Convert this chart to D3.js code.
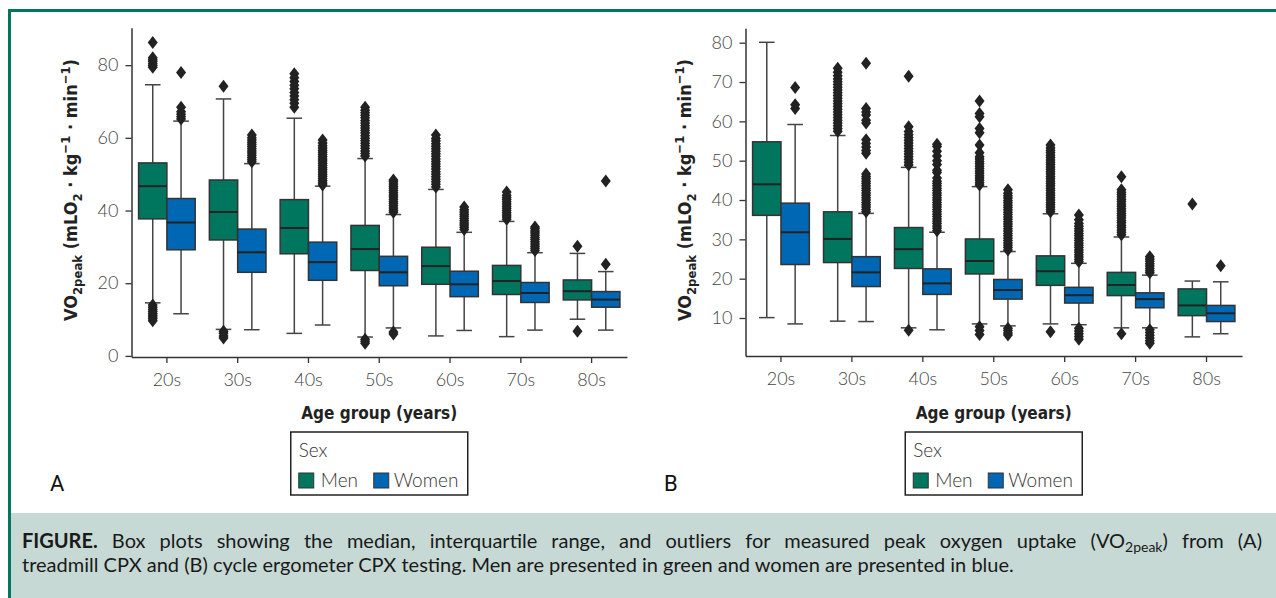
<!DOCTYPE html>
<html>
<head>
<meta charset="utf-8">
<script src="https://cdn.jsdelivr.net/npm/d3@7"></script>
<style>
  body { margin: 0; background: #fff; }
  svg { display: block; }
</style>
</head>
<body>
<script>
// Age groups on the x axis
const ageGroups = ['20s', '30s', '40s', '50s', '60s', '70s', '80s'];
const sexes = ['Men', 'Women'];

// Panel A: treadmill CPX (box stats)
const menA = [
  { lo: 14.6, q1: 37.7, med: 46.7, q3: 53.1, hi: 74.6 },
  { lo: 7.3, q1: 31.9, med: 39.6, q3: 48.4, hi: 70.7 },
  { lo: 6.2, q1: 28.1, med: 35.2, q3: 43.0, hi: 65.4 },
  { lo: 5.2, q1: 23.5, med: 29.4, q3: 35.9, hi: 54.3 },
  { lo: 5.5, q1: 19.7, med: 24.7, q3: 29.9, hi: 45.8 },
  { lo: 5.3, q1: 16.9, med: 20.6, q3: 24.9, hi: 37.0 },
  { lo: 10.1, q1: 15.4, med: 17.8, q3: 20.9, hi: 28.2 },
];
const womenA = [
  { lo: 11.6, q1: 29.2, med: 36.7, q3: 43.3, hi: 64.6 },
  { lo: 7.2, q1: 23.0, med: 28.5, q3: 34.9, hi: 52.9 },
  { lo: 8.5, q1: 20.8, med: 25.8, q3: 31.3, hi: 46.7 },
  { lo: 7.7, q1: 19.3, med: 23.0, q3: 27.4, hi: 38.9 },
  { lo: 7.0, q1: 16.3, med: 19.7, q3: 23.3, hi: 34.0 },
  { lo: 7.1, q1: 14.7, med: 17.3, q3: 20.2, hi: 28.4 },
  { lo: 7.1, q1: 13.4, med: 15.5, q3: 17.7, hi: 23.2 },
];
const menOutA = [
  [79.4, 79.9, 80.4, 81.0, 81.5, 82.0, 86.2, 14.0, 13.4, 12.8, 12.2, 11.7, 11.2, 10.7, 10.2, 9.7],
  [74.2, 6.8, 6.2, 5.5, 4.9],
  [68.4, 69.5, 70.5, 71.5, 72.5, 73.5, 74.5, 75.5, 76.5, 77.6],
  [55.0, 55.7, 56.4, 57.1, 57.8, 58.5, 59.2, 59.9, 60.6, 61.3, 62.0, 62.7, 63.4, 64.1, 64.8, 65.5, 66.2, 66.9, 67.6, 68.4, 4.6, 4.0, 3.5],
  [46.5, 47.2, 47.9, 48.6, 49.3, 50.0, 50.7, 51.4, 52.1, 52.8, 53.5, 54.2, 54.9, 55.6, 56.3, 57.0, 57.7, 58.4, 59.1, 59.8, 60.8],
  [37.6, 38.2, 38.8, 39.4, 40.0, 40.6, 41.2, 41.8, 42.4, 43.0, 43.6, 44.2, 45.1],
  [30.2, 6.8],
];
const womenOutA = [
  [65.2, 65.8, 66.5, 67.2, 68.4, 78.0],
  [53.4, 54.0, 54.6, 55.2, 55.8, 56.4, 57.0, 57.6, 58.2, 58.8, 59.4, 60.0, 60.8],
  [47.0, 47.6, 48.2, 48.8, 49.4, 50.0, 50.6, 51.2, 51.8, 52.4, 53.0, 53.6, 54.2, 54.8, 55.4, 56.0, 56.6, 57.2, 57.8, 58.6, 59.4],
  [39.5, 40.1, 40.7, 41.3, 41.9, 42.5, 43.1, 43.7, 44.3, 44.9, 45.5, 46.1, 46.7, 47.3, 47.9, 48.4, 6.6, 6.0],
  [34.8, 35.4, 36.0, 36.6, 37.2, 37.8, 38.4, 39.0, 39.6, 40.2, 41.0],
  [29.0, 29.6, 30.2, 30.8, 31.4, 32.0, 32.6, 33.2, 33.8, 34.4, 35.0, 35.5],
  [25.2, 48.1],
];

// Panel B: cycle ergometer CPX
const menB = [
  { lo: 10.1, q1: 36.1, med: 44.0, q3: 54.8, hi: 80.1 },
  { lo: 9.2, q1: 24.1, med: 30.1, q3: 37.0, hi: 56.4 },
  { lo: 7.5, q1: 22.6, med: 27.5, q3: 33.0, hi: 48.3 },
  { lo: 8.5, q1: 21.2, med: 24.5, q3: 30.1, hi: 43.4 },
  { lo: 8.5, q1: 18.3, med: 21.9, q3: 25.8, hi: 36.5 },
  { lo: 7.5, q1: 15.7, med: 18.4, q3: 21.6, hi: 30.6 },
  { lo: 5.2, q1: 10.6, med: 13.2, q3: 17.4, hi: 19.4 },
];
const womenB = [
  { lo: 8.5, q1: 23.6, med: 31.8, q3: 39.2, hi: 59.2 },
  { lo: 9.1, q1: 18.0, med: 21.6, q3: 25.6, hi: 36.6 },
  { lo: 7.0, q1: 16.0, med: 18.8, q3: 22.5, hi: 31.8 },
  { lo: 8.0, q1: 14.8, med: 17.1, q3: 19.8, hi: 26.9 },
  { lo: 8.3, q1: 13.8, med: 15.8, q3: 17.8, hi: 23.9 },
  { lo: 7.5, q1: 12.6, med: 14.8, q3: 16.4, hi: 20.9 },
  { lo: 6.0, q1: 9.1, med: 11.2, q3: 13.2, hi: 19.2 },
];
const menOutB = [
  [],
  [57.5, 58.2, 58.9, 59.6, 60.3, 61.0, 61.7, 62.4, 63.1, 63.8, 64.5, 65.2, 65.9, 66.6, 67.3, 68.0, 68.7, 69.4, 70.1, 70.8, 71.6, 72.5, 73.5],
  [48.9, 49.6, 50.3, 51.0, 51.7, 52.4, 53.1, 53.8, 54.5, 55.2, 55.9, 56.6, 57.4, 58.6, 71.5, 6.9],
  [43.8, 44.4, 45.0, 45.6, 46.2, 46.8, 47.4, 48.0, 48.6, 49.2, 49.8, 50.4, 51.0, 52.0, 54.0, 57.1, 58.2, 61.2, 62.0, 65.2, 7.8, 6.8, 5.8],
  [37.0, 37.6, 38.2, 38.8, 39.4, 40.0, 40.6, 41.2, 41.8, 42.4, 43.0, 43.6, 44.2, 44.8, 45.4, 46.0, 46.6, 47.2, 47.8, 48.4, 49.0, 49.6, 50.2, 50.8, 51.4, 52.0, 52.6, 53.2, 54.0, 6.5],
  [31.2, 31.8, 32.4, 33.0, 33.6, 34.2, 34.8, 35.4, 36.0, 36.6, 37.2, 37.8, 38.4, 39.0, 39.6, 40.2, 40.8, 41.4, 42.0, 42.6, 45.9, 6.0],
  [39.0],
];
const womenOutB = [
  [63.3, 64.2, 68.6],
  [37.0, 37.6, 38.2, 38.8, 39.4, 40.0, 40.6, 41.2, 41.8, 42.4, 43.0, 43.6, 44.2, 44.8, 45.4, 46.0, 46.6, 51.9, 52.6, 53.5, 54.4, 55.3, 59.6, 60.3, 61.6, 62.4, 63.3, 74.8],
  [32.2, 32.8, 33.4, 34.0, 34.6, 35.2, 35.8, 36.4, 37.0, 37.6, 38.2, 38.8, 39.4, 40.0, 40.6, 41.2, 41.8, 42.4, 43.0, 43.6, 44.2, 44.8, 45.6, 47.0, 47.6, 49.0, 50.0, 51.2, 52.4, 53.6, 54.2],
  [27.3, 27.9, 28.5, 29.1, 29.7, 30.3, 30.9, 31.5, 32.1, 32.7, 33.3, 33.9, 34.5, 35.1, 35.7, 36.3, 36.9, 37.5, 38.1, 38.7, 39.3, 39.9, 40.5, 41.1, 41.7, 42.6, 7.4, 6.8, 6.2, 5.7],
  [24.3, 24.9, 25.5, 26.1, 26.7, 27.3, 27.9, 28.5, 29.1, 29.7, 30.3, 30.9, 31.5, 32.1, 32.7, 33.3, 34.0, 35.0, 36.2, 7.4, 6.7, 6.0, 5.3, 4.6],
  [21.5, 22.0, 22.6, 23.2, 23.8, 24.4, 25.0, 25.6, 7.0, 6.3, 5.6, 4.9, 4.2, 3.6],
  [23.3],
];

const ticksA = [0, 20, 40, 60, 80];
const ticksB = [10, 20, 30, 40, 50, 60, 70, 80];

const sexColors = { Men: '#00765f', Women: '#0067b5' };
const tickFont = 'Lato, "Open Sans", sans-serif';
const titleFont = '"DejaVu Sans Condensed", "DejaVu Sans", sans-serif';

const svg = d3
  .select('body')
  .append('svg')
  .attr('width', 1276)
  .attr('height', 598);

// Figure frame and caption strip
svg.append('rect').attr('x', 11).attr('y', 513).attr('width', 1265).attr('height', 85).attr('fill', '#c6d9d4');
svg.append('rect').attr('x', 8).attr('y', 9).attr('width', 1268).attr('height', 3).attr('fill', '#00765f');
svg.append('rect').attr('x', 8).attr('y', 9).attr('width', 3).attr('height', 589).attr('fill', '#00765f');

class BoxPanel {
  constructor(_config, _data) {
    this.config = _config;
    this.data = _data;
    this.initVis();
  }

  initVis() {
    let vis = this;
    const c = vis.config;

    vis.g = svg.append('g');

    vis.x = d3.scaleBand().domain(ageGroups).range(c.xRange).padding(0);
    vis.y = d3.scaleLinear().domain(c.yDomain).range(c.yRange);

    // Axes
    const yAxis = d3.axisLeft(vis.y).tickValues(c.ticks).tickSize(6).tickPadding(7).tickSizeOuter(0);
    const xAxis = d3.axisBottom(vis.x).tickSize(6).tickPadding(10).tickSizeOuter(0);

    const yg = vis.g.append('g').attr('transform', `translate(${c.xRange[0]},0)`).call(yAxis);
    const xg = vis.g.append('g').attr('transform', `translate(0,${c.yRange[0]})`).call(xAxis);

    [yg, xg].forEach((a) => {
      a.select('.domain').attr('stroke', '#333').attr('stroke-width', 1.5);
      a.selectAll('.tick line').attr('stroke', '#333').attr('stroke-width', 1.3);
      a.selectAll('.tick text')
        .attr('fill', '#444')
        .style('font-family', tickFont)
        .style('font-weight', 300)
        .style('font-size', '18px');
    });

    const midX = (c.xRange[0] + c.xRange[1]) / 2;

    // Axis titles
    vis.g.append('text')
      .attr('x', midX)
      .attr('y', 419)
      .attr('text-anchor', 'middle')
      .style('font-family', titleFont)
      .style('font-weight', 'bold')
      .style('font-size', '17px')
      .attr('fill', '#222')
      .text('Age group (years)');

    const yt = vis.g.append('text')
      .attr('transform', `translate(${c.yTitleX},${c.yTitleY}) rotate(-90)`)
      .attr('text-anchor', 'middle')
      .style('font-family', titleFont)
      .style('font-weight', 'bold')
      .style('font-size', '18px')
      .attr('fill', '#222');
    yt.append('tspan').text('VO');
    yt.append('tspan').attr('dy', 5).style('font-size', '13px').text('2peak');
    yt.append('tspan').attr('dy', -5).text(' (mLO');
    yt.append('tspan').attr('dy', 5).style('font-size', '13px').text('2');
    yt.append('tspan').attr('dy', -5).text(' · kg');
    yt.append('tspan').attr('dy', -7).style('font-size', '13px').text('−1');
    yt.append('tspan').attr('dy', 7).text(' · min');
    yt.append('tspan').attr('dy', -7).style('font-size', '13px').text('−1');
    yt.append('tspan').attr('dy', 7).text(')');

    // Panel letter
    vis.g.append('text')
      .attr('x', c.letterX)
      .attr('y', 491)
      .style('font-family', 'Roboto, sans-serif')
      .style('font-weight', 400)
      .style('font-size', '22px')
      .attr('fill', '#111')
      .text(c.letter);

    // Legend box, centred under the axis
    const lw = 177, lh = 63;
    const lx = midX - lw / 2, ly = 432;
    const lg = vis.g.append('g').attr('transform', `translate(${lx},${ly})`);
    lg.append('rect').attr('width', lw).attr('height', lh).attr('fill', '#fff').attr('stroke', '#222').attr('stroke-width', 1.5);
    lg.append('text').attr('x', 8).attr('y', 25).text('Sex');
    const items = [{ k: 'Men', sx: 8, tx: 30 }, { k: 'Women', sx: 83, tx: 103 }];
    items.forEach((d) => {
      lg.append('rect')
        .attr('x', d.sx).attr('y', 41).attr('width', 15).attr('height', 15)
        .attr('fill', sexColors[d.k]).attr('stroke', '#333').attr('stroke-width', 1);
      lg.append('text').attr('x', d.tx).attr('y', 55).text(d.k);
    });
    lg.selectAll('text')
      .attr('fill', '#333')
      .style('font-family', tickFont)
      .style('font-weight', 300)
      .style('font-size', '19px');

    vis.renderVis();
  }

  renderVis() {
    let vis = this;
    const bw = vis.x.bandwidth();
    const boxW = bw * 0.4;
    const capW = boxW * 0.55;

    const series = [
      { key: 'Men', stats: vis.data.men, out: vis.data.menOut, offset: -boxW },
      { key: 'Women', stats: vis.data.women, out: vis.data.womenOut, offset: 0 },
    ];

    series.forEach((s) => {
      const boxes = vis.g.append('g')
        .selectAll('g')
        .data(s.stats.map((d, i) => ({ ...d, cat: ageGroups[i], out: s.out[i] })))
        .join('g')
        .attr('transform', (d) => `translate(${vis.x(d.cat) + bw / 2 + s.offset},0)`);

      const cx = boxW / 2;

      // whiskers
      boxes.append('line')
        .attr('x1', cx).attr('x2', cx)
        .attr('y1', (d) => vis.y(d.hi)).attr('y2', (d) => vis.y(d.q3));
      boxes.append('line')
        .attr('x1', cx).attr('x2', cx)
        .attr('y1', (d) => vis.y(d.q1)).attr('y2', (d) => vis.y(d.lo));
      // caps
      boxes.append('line')
        .attr('x1', cx - capW / 2).attr('x2', cx + capW / 2)
        .attr('y1', (d) => vis.y(d.hi)).attr('y2', (d) => vis.y(d.hi));
      boxes.append('line')
        .attr('x1', cx - capW / 2).attr('x2', cx + capW / 2)
        .attr('y1', (d) => vis.y(d.lo)).attr('y2', (d) => vis.y(d.lo));
      boxes.selectAll('line').attr('stroke', '#444').attr('stroke-width', 1.5);

      // IQR box
      boxes.append('rect')
        .attr('x', 0)
        .attr('width', boxW)
        .attr('y', (d) => vis.y(d.q3))
        .attr('height', (d) => vis.y(d.q1) - vis.y(d.q3))
        .attr('fill', sexColors[s.key])
        .attr('stroke', '#333')
        .attr('stroke-width', 1.5);

      // median
      boxes.append('line')
        .attr('x1', 0).attr('x2', boxW)
        .attr('y1', (d) => vis.y(d.med)).attr('y2', (d) => vis.y(d.med))
        .attr('stroke', '#222')
        .attr('stroke-width', 2);

      // outliers (thin diamonds)
      boxes.selectAll('path.flier')
        .data((d) => d.out)
        .join('path')
        .attr('class', 'flier')
        .attr('d', 'M0,-6.5L5,0L0,6.5L-5,0Z')
        .attr('transform', (v) => `translate(${cx},${vis.y(v)})`)
        .attr('fill', '#222');
    });
  }
}

new BoxPanel(
  {
    xRange: [131.5, 627],
    yDomain: [-0.3, 90.3],
    yRange: [357, 27.7],
    ticks: ticksA,
    yTitleX: 77,
    yTitleY: 190,
    letter: 'A',
    letterX: 50,
  },
  { men: menA, women: womenA, menOut: menOutA, womenOut: womenOutA }
);

new BoxPanel(
  {
    xRange: [745.5, 1242],
    yDomain: [0.34, 83.66],
    yRange: [356, 28.3],
    ticks: ticksB,
    yTitleX: 691,
    yTitleY: 190,
    letter: 'B',
    letterX: 664,
  },
  { men: menB, women: womenB, menOut: menOutB, womenOut: womenOutB }
);

// Caption (first line justified to the strip width)
const capStyle = (t) =>
  t.style('font-family', tickFont).style('font-size', '20px').attr('fill', '#1a1a1a');

const cap1 = svg.append('text').attr('x', 22).attr('y', 548).call(capStyle);
cap1.append('tspan').style('font-weight', 'bold').text('FIGURE.');
cap1.append('tspan').text(' Box plots showing the median, interquartile range, and outliers for measured peak oxygen uptake (VO');
cap1.append('tspan').attr('dy', 4).style('font-size', '14px').text('2peak');
cap1.append('tspan').attr('dy', -4).text(') from (A)');

const natural = cap1.node().getComputedTextLength();
const spaces = cap1.text().split(' ').length - 1;
cap1.attr('word-spacing', (1240 - natural) / spaces);

svg.append('text')
  .attr('x', 22)
  .attr('y', 572)
  .call(capStyle)
  .text('treadmill CPX and (B) cycle ergometer CPX testing. Men are presented in green and women are presented in blue.');
</script>
</body>
</html>
